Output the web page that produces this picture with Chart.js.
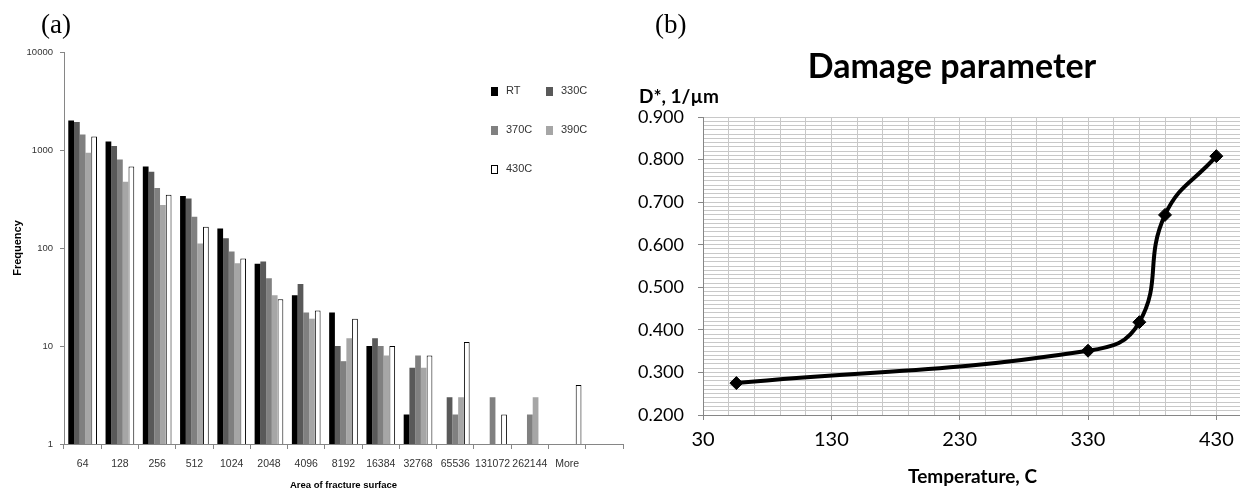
<!DOCTYPE html>
<html>
<head>
<meta charset="utf-8">
<title>Fracture surface histogram and damage parameter</title>
<script src="https://cdn.jsdelivr.net/npm/chart.js@4.4.1/dist/chart.umd.min.js"></script>
<style>
  html, body { margin: 0; padding: 0; background: #fff; width: 1240px; height: 492px; overflow: hidden; }
  canvas { position: absolute; top: 0; }
  #chartA { left: 0; }
  #chartB { left: 620px; }
  .tag { position: absolute; top: 11px; font-family: "Liberation Serif", "Times New Roman", serif; font-size: 27px; line-height: 1; color: #000; }
  .lbl { position: absolute; font-family: Lato, "Open Sans", sans-serif; font-weight: bold; line-height: 1; color: #000; white-space: nowrap; }
  #legendA { position: absolute; left: 491px; top: 84px; display: grid; grid-template-columns: 55px 55px; grid-auto-rows: 39px; }
  #legendA .item { display: flex; align-items: flex-start; font-family: "Liberation Sans", Arial, sans-serif; font-size: 11px; color: #333; }
  #legendA .sw { width: 7px; height: 9px; margin-top: 3px; margin-right: 8px; box-sizing: border-box; }
</style>
</head>
<body>
<canvas id="chartA" width="640" height="492"></canvas>
<canvas id="chartB" width="630" height="492"></canvas>
<div class="tag" style="left:41px">(a)</div>
<div class="tag" style="left:655px">(b)</div>
<div class="lbl" style="left:952px; top:48px; font-size:34px; transform:translateX(-50%)">Damage parameter</div>
<div class="lbl" style="left:639px; top:86px; font-size:19px">D*, 1/µm</div>
<div id="legendA"></div>
<script>
// (a) histogram of fracture surface areas
const areas = ['64', '128', '256', '512', '1024', '2048', '4096', '8192', '16384', '32768', '65536', '131072', '262144', 'More', ''];
const freqRT   = [2000, 1220, 680, 340, 158, 69, 33, 22, 10, 2, null, null, null, null, null];
const freq330C = [1930, 1100, 600, 320, 126, 73, 43, 10, 12, 6, 3, null, null, null, null];
const freq370C = [1440, 800, 410, 208, 92, 49, 22, 7, 10, 8, 2, 3, 2, null, null];
const freq390C = [940, 475, 275, 111, 70, 33, 19, 12, 8, 6, 3, null, 3, null, null];
const freq430C = [1370, 680, 350, 165, 78, 30, 23, 19, 10, 8, 11, 2, null, 4, null];
const freqTicks = [1, 10, 100, 1000, 10000];

// (b) damage parameter vs temperature
const temps  = [56, 330, 370, 390, 430];
const damage = [0.275, 0.351, 0.418, 0.670, 0.808];

const axisGray = '#868686';

function bars(label, data, fill, border) {
  return {
    label: label,
    data: data,
    backgroundColor: fill,
    borderColor: border || fill,
    borderWidth: border ? 1 : 0,
    categoryPercentage: 0.77,
    barPercentage: 1.0
  };
}

const chartA = new Chart(document.getElementById('chartA'), {
  type: 'bar',
  data: {
    labels: areas,
    datasets: [
      bars('RT', freqRT, '#000000'),
      bars('330C', freq330C, '#595959'),
      bars('370C', freq370C, '#808080'),
      bars('390C', freq390C, '#a6a6a6'),
      bars('430C', freq430C, '#ffffff', '#000000')
    ]
  },
  options: {
    responsive: false,
    animation: false,
    layout: { padding: { top: 52, right: 17, left: 0, bottom: 0 } },
    plugins: { legend: { display: false }, tooltip: { enabled: false } },
    scales: {
      x: {
        grid: { drawOnChartArea: false, drawTicks: true, tickLength: 5, color: axisGray, offset: true },
        border: { color: axisGray },
        ticks: { color: '#333', padding: 9, font: { family: 'Liberation Sans', size: 10.5 }, maxRotation: 0, autoSkip: false },
        title: { display: true, text: 'Area of fracture surface', color: '#000', padding: { top: 0, bottom: 1 },
                 font: { family: 'Liberation Sans', size: 9.5, weight: 'bold' } },
        afterFit: (s) => { s.height = 48; }
      },
      y: {
        type: 'logarithmic',
        min: 1,
        max: 10000,
        grid: { drawOnChartArea: false, drawTicks: true, tickLength: 4, color: axisGray },
        border: { color: axisGray },
        ticks: { color: '#333', padding: 7, font: { family: 'Liberation Sans', size: 9.5 }, callback: (v) => String(v) },
        afterBuildTicks: (s) => { s.ticks = freqTicks.map(v => ({ value: v, major: true })); },
        title: { display: true, text: 'Frequency', color: '#000', padding: { top: 11, bottom: 0 },
                 font: { family: 'Liberation Sans', size: 11, weight: 'bold' } },
        afterFit: (s) => { s.width = 64; }
      }
    }
  }
});

// legend for (a), laid out in two columns like the original
const legendBox = document.getElementById('legendA');
chartA.data.datasets.forEach(ds => {
  const item = document.createElement('div');
  item.className = 'item';
  const sw = document.createElement('span');
  sw.className = 'sw';
  sw.style.background = ds.backgroundColor;
  if (ds.borderWidth) sw.style.border = '1px solid ' + ds.borderColor;
  item.appendChild(sw);
  item.appendChild(document.createTextNode(ds.label));
  legendBox.appendChild(item);
});

const isMajorY = (v) => Math.abs(v * 10 - Math.round(v * 10)) < 1e-6;
const isMajorX = (v) => (v - 30) % 100 === 0;

new Chart(document.getElementById('chartB'), {
  type: 'line',
  data: {
    datasets: [{
      label: 'D*',
      data: temps.map((t, i) => ({ x: t, y: damage[i] })),
      borderColor: '#000',
      borderWidth: 4,
      tension: 0.45,
      pointStyle: 'rectRot',
      pointRadius: 6.5,
      pointBackgroundColor: '#000',
      pointBorderColor: '#000',
      pointBorderWidth: 1,
      fill: false
    }]
  },
  options: {
    responsive: false,
    animation: false,
    layout: { padding: { top: 117, right: 8, left: 0, bottom: 0 } },
    plugins: { legend: { display: false }, tooltip: { enabled: false } },
    scales: {
      x: {
        type: 'linear',
        min: 30,
        max: 450,
        afterBuildTicks: (s) => {
          const t = [];
          for (let v = 30; v <= 450; v += 20) t.push({ value: v });
          s.ticks = t;
        },
        grid: { color: '#c8c8c8', tickLength: 5, tickColor: (c) => (c.tick && isMajorX(c.tick.value)) ? axisGray : 'rgba(0,0,0,0)' },
        border: { color: axisGray },
        ticks: { color: '#000', padding: 8, autoSkip: false, maxRotation: 0,
                 font: { family: 'Lato', size: 20 },
                 callback: (v) => isMajorX(v) ? String(v) : '' },
        title: { display: true, text: 'Temperature, C', color: '#000', padding: { top: 0, bottom: 4 },
                 font: { family: 'Lato', size: 19, weight: 'bold' } },
        afterFit: (s) => { s.height = 77; }
      },
      y: {
        min: 0.2,
        max: 0.9,
        afterBuildTicks: (s) => {
          const t = [];
          for (let i = 20; i <= 90; i++) t.push({ value: i / 100 });
          s.ticks = t;
        },
        grid: { color: '#c8c8c8', tickLength: 5, tickColor: (c) => (c.tick && isMajorY(c.tick.value)) ? axisGray : 'rgba(0,0,0,0)' },
        border: { color: axisGray },
        ticks: { color: '#000', padding: 14, autoSkip: false,
                 font: { family: 'Lato', size: 18 },
                 callback: (v) => isMajorY(v) ? v.toFixed(3) : '' },
        afterFit: (s) => { s.width = 83; }
      }
    }
  }
});
</script>
</body>
</html>
